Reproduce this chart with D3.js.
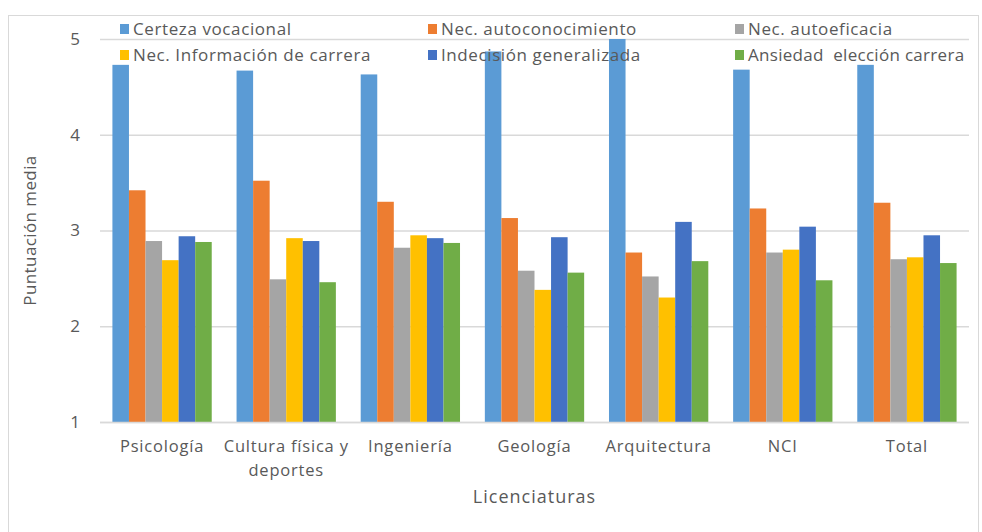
<!DOCTYPE html>
<html>
<head>
<meta charset="utf-8">
<script src="https://cdn.jsdelivr.net/npm/d3@7"></script>
<style>
  body { margin: 0; background: #fff; }
  svg text { font-family: "Open Sans", "Liberation Sans", sans-serif; fill: #595959; }
</style>
</head>
<body>
<svg id="chart" width="982" height="532"></svg>
<script>
const categories = ["Psicología", "Cultura física y deportes", "Ingeniería", "Geología", "Arquitectura", "NCI", "Total"];
const seriesNames = ["Certeza vocacional", "Nec. autoconocimiento", "Nec. autoeficacia",
                     "Nec. Información de carrera", "Indecisión generalizada", "Ansiedad  elección carrera"];
const certeza        = [4.73, 4.67, 4.63, 4.87, 5.00, 4.68, 4.73];
const autoconoc      = [3.42, 3.52, 3.30, 3.13, 2.77, 3.23, 3.29];
const autoeficacia   = [2.89, 2.49, 2.82, 2.58, 2.52, 2.77, 2.70];
const informacion    = [2.69, 2.92, 2.95, 2.38, 2.30, 2.80, 2.72];
const indecision     = [2.94, 2.89, 2.92, 2.93, 3.09, 3.04, 2.95];
const ansiedad       = [2.88, 2.46, 2.87, 2.56, 2.68, 2.48, 2.66];
const yTicks = [1, 2, 3, 4, 5];
const colors = ["#5b9bd5", "#ed7d31", "#a5a5a5", "#ffc000", "#4472c4", "#70ad47"];

const seriesValues = [certeza, autoconoc, autoeficacia, informacion, indecision, ansiedad];
const svg = d3.select("#chart");

const pLeft = 100, pRight = 969, pTop = 39, pBottom = 422;

// border
svg.append("rect").attr("x", 8.5).attr("y", 15.5).attr("width", 970).attr("height", 530)
  .attr("fill", "none").attr("stroke", "#d9d9d9").attr("stroke-width", 1);

const x0 = d3.scaleBand().domain(categories).range([pLeft, pRight]).paddingInner(0.2).paddingOuter(0.1);
const x1 = d3.scaleBand().domain(d3.range(seriesNames.length)).range([0, x0.bandwidth()]);
const y = d3.scaleLinear().domain([1, 5]).range([pBottom, pTop]);

// gridlines
svg.append("g").selectAll("line").data(yTicks).join("line")
  .attr("x1", pLeft).attr("x2", pRight)
  .attr("y1", d => y(d) + 0.5).attr("y2", d => y(d) + 0.5)
  .attr("stroke", "#d9d9d9").attr("stroke-width", 1.3);

// y axis labels
const yAxis = svg.append("g").attr("transform", `translate(${pLeft},0)`)
  .call(d3.axisLeft(y).tickValues(yTicks).tickSize(0).tickPadding(20).tickFormat(d3.format("d")));
yAxis.select(".domain").remove();
yAxis.selectAll("text").style("font-size", "17px").style("font-family", "\"Open Sans\", sans-serif").attr("fill", "#595959");

// bars
const groups = svg.append("g").selectAll("g").data(categories).join("g")
  .attr("transform", d => `translate(${x0(d)},0)`);
groups.selectAll("rect").data((d, i) => seriesValues.map((s, k) => ({k, v: s[i]}))).join("rect")
  .attr("x", d => x1(d.k))
  .attr("width", x1.bandwidth())
  .attr("y", d => y(Math.min(d.v, 5.01)))
  .attr("height", d => pBottom - y(Math.min(d.v, 5.01)))
  .attr("fill", d => colors[d.k]);

// bottom axis line
svg.append("line").attr("x1", pLeft).attr("x2", pRight).attr("y1", pBottom + 0.5).attr("y2", pBottom + 0.5)
  .attr("stroke", "#d9d9d9").attr("stroke-width", 1.3);

// category labels
const catLabels = {"Cultura física y deportes": ["Cultura física y", "deportes"]};
svg.append("g").selectAll("text").data(categories).join("text")
  .attr("x", d => x0(d) + x0.bandwidth() / 2)
  .attr("y", 452)
  .attr("text-anchor", "middle")
  .style("font-size", "16.5px")
  .style("letter-spacing", "0.8px")
  .each(function(d) {
    const lines = catLabels[d] || [d];
    d3.select(this).selectAll("tspan").data(lines).join("tspan")
      .attr("x", x0(d) + x0.bandwidth() / 2)
      .attr("dy", (l, i) => i === 0 ? 0 : 24)
      .text(l => l);
  });

// axis titles
svg.append("text").attr("x", (pLeft + pRight) / 2).attr("y", 503).attr("text-anchor", "middle")
  .style("font-size", "18px").style("letter-spacing", "1px").text("Licenciaturas");
svg.append("text").attr("transform", `translate(36,${(pTop + pBottom) / 2}) rotate(-90)`)
  .attr("text-anchor", "middle").style("font-size", "17px").style("letter-spacing", "0.4px").text("Puntuación media");

// legend
const legendX = [120, 428, 735];
const legendY = [29, 55];
const legend = svg.append("g").selectAll("g").data(seriesNames).join("g")
  .attr("transform", (d, i) => `translate(${legendX[i % 3]},${legendY[Math.floor(i / 3)]})`);
legend.append("rect").attr("x", 0).attr("y", -5).attr("width", 9).attr("height", 10)
  .attr("fill", (d, i) => colors[i]);
legend.append("text").attr("x", 13).attr("y", 6).style("font-size", "17px")
  .style("letter-spacing", (d, i) => i === 5 ? "0.3px" : "0.6px")
  .style("white-space", "pre").attr("xml:space", "preserve").text(d => d);
</script>
</body>
</html>
